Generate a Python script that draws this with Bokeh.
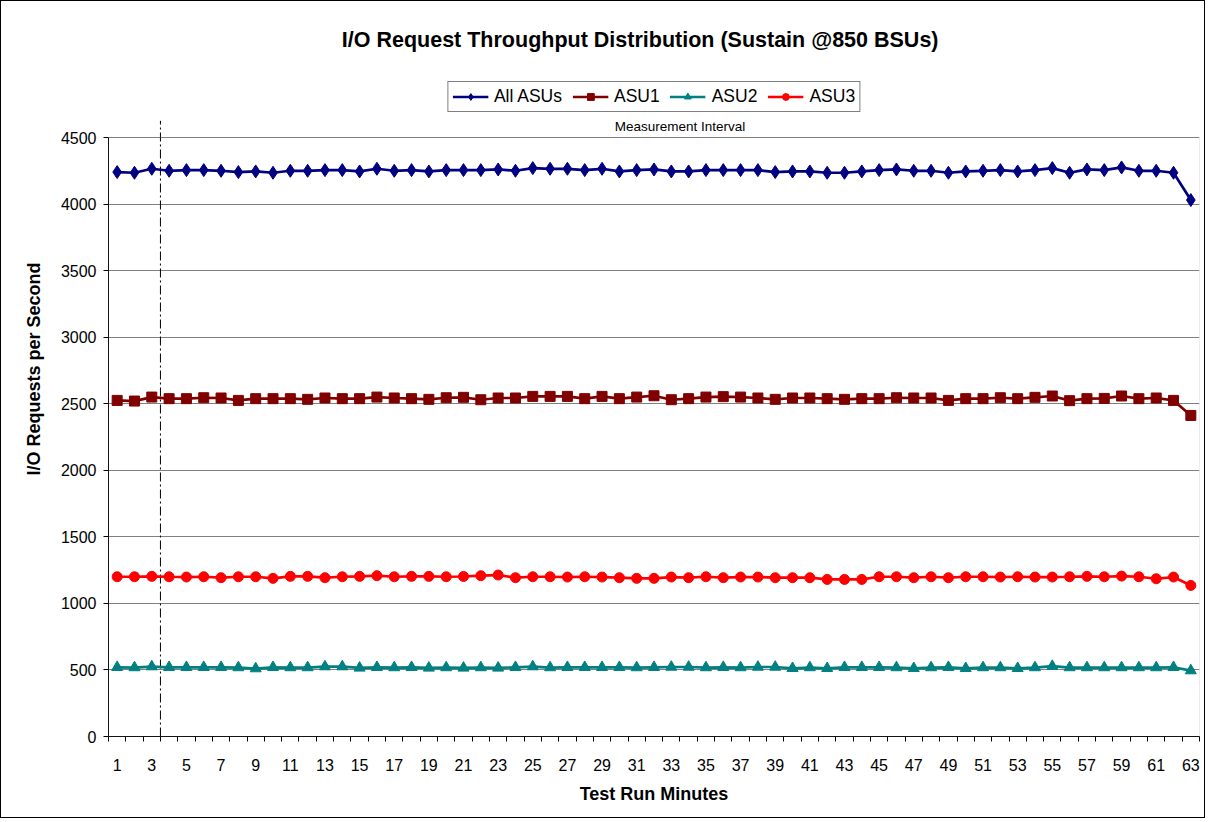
from bokeh.plotting import figure
from bokeh.models import (Legend, LegendItem, Label, FixedTicker, Range1d,
                          BoxAnnotation)
from bokeh.embed import file_html
from bokeh.resources import INLINE

minutes = list(range(1, 64))
x_tick_labels = list(range(1, 64, 2))
y_ticks = list(range(0, 4501, 500))

all_asus = [4240, 4235, 4265, 4250, 4255, 4255, 4250, 4240, 4245, 4235,
            4250, 4250, 4255, 4255, 4245, 4265, 4250, 4255, 4245, 4255,
            4255, 4255, 4260, 4250, 4270, 4265, 4265, 4255, 4265, 4245,
            4255, 4260, 4245, 4245, 4255, 4255, 4255, 4255, 4240, 4245,
            4245, 4235, 4235, 4245, 4255, 4260, 4250, 4250, 4235, 4245,
            4250, 4255, 4245, 4255, 4270, 4235, 4260, 4255, 4275, 4250,
            4250, 4235, 4030]
asu1 = [2525, 2520, 2550, 2538, 2538, 2545, 2543, 2525, 2538, 2538,
        2538, 2533, 2543, 2538, 2538, 2550, 2543, 2538, 2533, 2545,
        2548, 2530, 2543, 2543, 2555, 2555, 2555, 2538, 2555, 2538,
        2550, 2560, 2530, 2538, 2550, 2553, 2550, 2543, 2533, 2543,
        2543, 2538, 2533, 2538, 2538, 2545, 2543, 2543, 2525, 2538,
        2538, 2545, 2538, 2548, 2558, 2523, 2538, 2540, 2558, 2538,
        2543, 2525, 2412]
asu2 = [520, 518, 525, 520, 520, 520, 520, 518, 510, 520,
        518, 518, 525, 525, 515, 520, 518, 520, 515, 518,
        515, 518, 515, 520, 525, 518, 520, 520, 520, 520,
        518, 520, 522, 522, 518, 520, 518, 522, 522, 512,
        518, 512, 520, 520, 520, 518, 512, 518, 520, 512,
        518, 518, 512, 518, 528, 518, 518, 518, 518, 518,
        518, 520, 495]
asu3 = [1200, 1200, 1203, 1200, 1198, 1200, 1193, 1200, 1200, 1188,
        1203, 1203, 1193, 1200, 1203, 1208, 1200, 1203, 1203, 1200,
        1202, 1208, 1213, 1193, 1200, 1200, 1198, 1200, 1198, 1193,
        1188, 1188, 1198, 1193, 1200, 1193, 1198, 1198, 1193, 1193,
        1193, 1180, 1180, 1180, 1200, 1200, 1193, 1200, 1193, 1200,
        1200, 1198, 1200, 1198, 1198, 1200, 1203, 1200, 1205, 1200,
        1185, 1198, 1135]

series_names = ["All ASUs", "ASU1", "ASU2", "ASU3"]
series_values = [all_asus, asu1, asu2, asu3]
series_colors = ["#000080", "#800000", "#008080", "#FF0000"]
series_markers = ["diamond", "square", "triangle", "circle"]
marker_sizes = [13, 10, 11, 10]

FONT = "Liberation Sans"
Y_MAX = 4500
Y_TOP = Y_MAX * 735 / 599  # room above the plot area for title and legend

p = figure(width=1205, height=818, output_backend="svg", toolbar_location=None,
           x_range=Range1d(0.5, 63.5), y_range=Range1d(0, Y_TOP),
           min_border_left=107, min_border_right=7, min_border_top=0,
           min_border_bottom=83)
p.styles = {"border": "1px solid black"}
p.background_fill_color = "white"
p.border_fill_color = "white"
p.outline_line_color = None

p.xgrid.visible = False
p.ygrid.ticker = FixedTicker(ticks=y_ticks)
p.ygrid.grid_line_color = "#808080"
p.ygrid.grid_line_width = 1

# plot-area outline (grey)
p.add_layout(BoxAnnotation(left=0.5, right=63.5, bottom=0, top=Y_MAX,
                           fill_alpha=0, line_color="#808080", line_width=1))

# axes
p.yaxis.bounds = (0, Y_MAX)
p.yaxis.ticker = FixedTicker(ticks=y_ticks)
p.yaxis.axis_line_color = "black"
p.yaxis.major_tick_line_color = "black"
p.yaxis.major_tick_out = 5
p.yaxis.major_tick_in = 0
p.yaxis.minor_tick_line_color = None
p.yaxis.major_label_text_font = FONT
p.yaxis.major_label_text_font_size = "16px"
p.yaxis.major_label_text_color = "black"
p.yaxis.major_label_standoff = 7
p.yaxis.axis_label = "I/O Requests per Second"
p.yaxis.axis_label_text_font = FONT
p.yaxis.axis_label_text_font_size = "18px"
p.yaxis.axis_label_text_font_style = "bold"
p.yaxis.axis_label_text_color = "black"
p.yaxis.axis_label_standoff = 14

p.xaxis.ticker = FixedTicker(ticks=x_tick_labels,
                             minor_ticks=[m + 0.5 for m in range(0, 64)])
p.xaxis.axis_line_color = "black"
p.xaxis.major_tick_line_color = None
p.xaxis.major_tick_out = 0
p.xaxis.major_tick_in = 0
p.xaxis.minor_tick_line_color = "black"
p.xaxis.minor_tick_out = 5
p.xaxis.minor_tick_in = 0
p.xaxis.major_label_text_font = FONT
p.xaxis.major_label_text_font_size = "16px"
p.xaxis.major_label_text_color = "black"
p.xaxis.major_label_standoff = 17
p.xaxis.axis_label = "Test Run Minutes"
p.xaxis.axis_label_text_font = FONT
p.xaxis.axis_label_text_font_size = "18px"
p.xaxis.axis_label_text_font_style = "bold"
p.xaxis.axis_label_text_color = "black"
p.xaxis.axis_label_standoff = 10

# measurement interval start marker (dash-dot)
p.segment(x0=[3.5], y0=[0], x1=[3.5], y1=[4625], line_color="black",
          line_width=1, line_dash="9 3 2 3")

items = []
for name, vals, col, mk, sz in zip(series_names, series_values, series_colors,
                                   series_markers, marker_sizes):
    lr = p.line(minutes, vals, line_color=col, line_width=2.7)
    sr = p.scatter(minutes, vals, marker=mk, size=sz, fill_color=col,
                   line_color=col)
    items.append(LegendItem(label=name, renderers=[lr, sr]))

legend = Legend(items=items, orientation="horizontal", location="top_center",
                label_text_font=FONT, label_text_font_size="17.5px",
                label_text_color="black", border_line_color="black",
                border_line_width=1, glyph_width=36, glyph_height=17,
                label_height=17, label_standoff=6, spacing=10, padding=4,
                margin=80, background_fill_alpha=1)
p.add_layout(legend, "center")

p.add_layout(Label(x=33.5, y=4579, text="Measurement Interval",
                   text_font=FONT, text_font_size="13.5px",
                   text_align="center", text_baseline="middle",
                   text_color="black"))

p.add_layout(Label(x=31.2, y=5229,
                   text="I/O Request Throughput Distribution (Sustain @850 BSUs)",
                   text_font=FONT, text_font_size="21.5px",
                   text_font_style="bold", text_align="center",
                   text_baseline="middle", text_color="black"))

open("out.html", "w").write(file_html(p, INLINE))
